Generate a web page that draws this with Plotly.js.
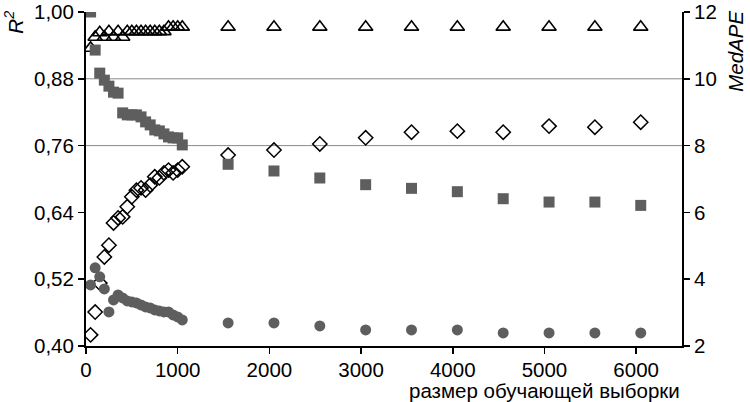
<!DOCTYPE html>
<html>
<head>
<meta charset="utf-8">
<script src="https://cdn.plot.ly/plotly-3.0.1.min.js"></script>
<style>
    html, body { margin: 0; padding: 0; background: #fff; }
    #chart { width: 750px; height: 402px; }
</style>
</head>
<body>
<div id="chart"></div>
<script>
// Sample sizes: dense part (50..1050) and sparse part (1550..6050)
const xDense = [50, 100, 150, 200, 250, 300, 350, 400, 450, 500, 550, 600, 650, 700, 750, 800, 850, 900, 950, 1000, 1050];
const xSparse = [1550, 2050, 2550, 3050, 3550, 4050, 4550, 5050, 5550, 6050];

// R2 (left axis) - open triangles
const triDense = [0.935, 0.955, 0.963, 0.955, 0.965, 0.955, 0.965, 0.955, 0.965, 0.965, 0.965, 0.965, 0.965, 0.965, 0.965, 0.965, 0.965, 0.973, 0.973, 0.973, 0.973];
const triSparse = [0.973, 0.973, 0.973, 0.973, 0.973, 0.973, 0.973, 0.973, 0.973, 0.973];

// R2 (left axis) - open diamonds
const diaDense = [0.420, 0.461, 0.513, 0.560, 0.581, 0.621, 0.630, 0.632, 0.650, 0.668, 0.680, 0.684, 0.680, 0.689, 0.704, 0.702, 0.711, 0.716, 0.711, 0.716, 0.722];
const diaSparse = [0.743, 0.752, 0.763, 0.774, 0.784, 0.786, 0.784, 0.795, 0.793, 0.802];

// MedAPE (right axis) - grey squares
const sqDense = [12.0, 10.86, 10.17, 9.96, 9.78, 9.60, 9.57, 8.98, 8.92, 8.92, 8.92, 8.86, 8.71, 8.62, 8.47, 8.44, 8.35, 8.26, 8.23, 8.23, 8.02];
const sqSparse = [7.44, 7.24, 7.03, 6.83, 6.72, 6.62, 6.41, 6.31, 6.31, 6.21];

// MedAPE (right axis) - grey circles
const cirDense = [3.83, 4.34, 4.07, 3.71, 3.02, 3.38, 3.53, 3.44, 3.35, 3.32, 3.29, 3.23, 3.17, 3.14, 3.08, 3.05, 3.02, 3.02, 2.93, 2.87, 2.78];
const cirSparse = [2.69, 2.69, 2.60, 2.48, 2.48, 2.48, 2.39, 2.39, 2.39, 2.39];

const leftTicks = [0.40, 0.52, 0.64, 0.76, 0.88, 1.00];
const rightTicks = [2, 4, 6, 8, 10, 12];
const xTicks = [0, 1000, 2000, 3000, 4000, 5000, 6000];
const gridVals = [0.76, 0.88];

const grey = '#5e5e5e';
const fontFam = '"Liberation Sans", Arial, sans-serif';
const fs = 20.5;

const xs = xDense.concat(xSparse);

const traces = [
    {
        x: xs, y: sqDense.concat(sqSparse), yaxis: 'y2',
        type: 'scatter', mode: 'markers',
        marker: { symbol: 'square', size: 11, color: grey }
    },
    {
        x: xs, y: cirDense.concat(cirSparse), yaxis: 'y2',
        type: 'scatter', mode: 'markers',
        marker: { symbol: 'circle', size: 11, color: grey }
    },
    {
        x: xs, y: diaDense.concat(diaSparse), yaxis: 'y',
        type: 'scatter', mode: 'markers',
        marker: { symbol: 'diamond-open', size: 11, color: '#000', line: { width: 1.5 } }
    },
    {
        x: xs, y: triDense.concat(triSparse), yaxis: 'y',
        type: 'scatter', mode: 'markers',
        marker: { symbol: 'triangle-up-open', size: 12.5, color: '#000', line: { width: 1.6 } }
    }
];

// horizontal grid lines only at two levels of the left axis
const gridShapes = gridVals.map(v => ({
    type: 'line', layer: 'below',
    xref: 'paper', x0: 0, x1: 1,
    yref: 'y', y0: v, y1: v,
    line: { color: '#8a8a8a', width: 1 }
}));

const layout = {
    width: 750,
    height: 402,
    margin: { l: 86, r: 68, t: 12, b: 56 },
    paper_bgcolor: '#fff',
    plot_bgcolor: '#fff',
    showlegend: false,
    separators: ',.',
    font: { family: fontFam, size: fs, color: '#000' },
    xaxis: {
        range: [0, 6500],
        tickvals: xTicks,
        ticktext: xTicks.map(String),
        ticks: 'outside', ticklen: 6, tickwidth: 1.5, tickcolor: '#000',
        ticklabelstandoff: -2,
        showline: true, linecolor: '#000', linewidth: 2,
        showgrid: false, zeroline: false,
        tickfont: { size: fs }
    },
    yaxis: {
        range: [0.40, 1.00],
        tickvals: leftTicks,
        tickformat: '.2f',
        ticks: 'outside', ticklen: 6, tickwidth: 1.5, tickcolor: '#000',
        showline: true, linecolor: '#000', linewidth: 2,
        showgrid: false, zeroline: false,
        tickfont: { size: fs }
    },
    yaxis2: {
        range: [2, 12],
        tickvals: rightTicks,
        overlaying: 'y', side: 'right',
        ticks: 'outside', ticklen: 6, tickwidth: 1.5, tickcolor: '#000',
        showline: true, linecolor: '#000', linewidth: 2,
        showgrid: false, zeroline: false,
        tickfont: { size: fs }
    },
    shapes: gridShapes,
    annotations: [
        {
            text: 'R<sup>2</sup>', textangle: -90,
            xref: 'paper', yref: 'paper', x: -0.12, y: 1.01,
            xanchor: 'center', yanchor: 'top', showarrow: false,
            font: { size: fs, style: 'italic' }
        },
        {
            text: 'MedAPE', textangle: -90,
            xref: 'paper', yref: 'paper', x: 1.09, y: 1.01,
            xanchor: 'center', yanchor: 'top', showarrow: false,
            font: { size: fs, style: 'italic' }
        },
        {
            text: 'размер обучающей выборки',
            xref: 'paper', yref: 'paper', x: 1.0, y: -0.132,
            xanchor: 'right', yanchor: 'middle', showarrow: false,
            font: { size: fs }
        }
    ]
};

Plotly.newPlot('chart', traces, layout, { displayModeBar: false, staticPlot: true });
</script>
</body>
</html>
